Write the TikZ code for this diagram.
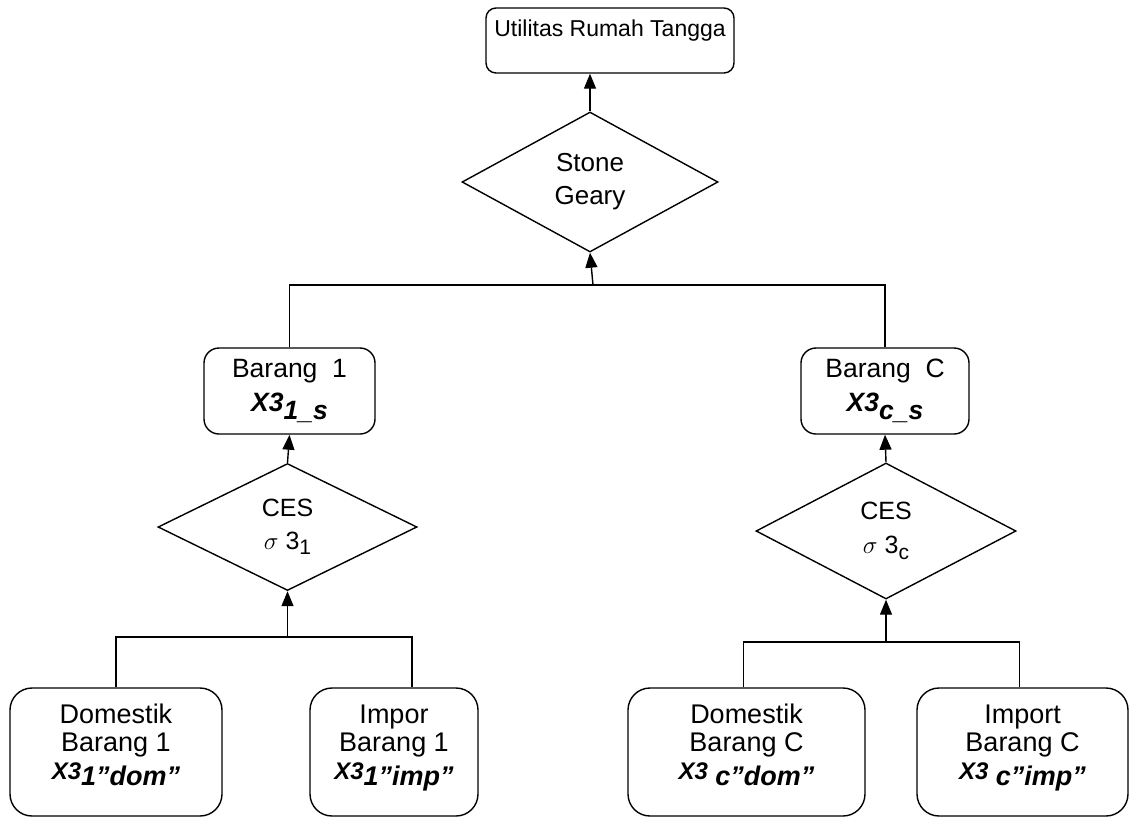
\documentclass[tikz,border=0pt]{standalone}
\usepackage{fontspec}
\setmainfont{Liberation Sans}
\usepackage{tikz}
\usetikzlibrary{shapes.geometric,arrows.meta}

\begin{document}
\begin{tikzpicture}[x=1pt, y=-1pt,
    every node/.style={font=\fontsize{25}{28}\selectfont, align=center, inner sep=0pt},
    box/.style={draw, line width=1.4pt, rounded corners=#1},
    leaf/.style={box=22pt, minimum height=128pt, font=\fontsize{27}{28}\selectfont},
    choice/.style={draw, diamond, line width=1.4pt},
    link/.style={line width=1.4pt},
    arr/.style={line width=1.4pt, -{Triangle[length=15pt, width=12pt]}}]
    \useasboundingbox (0, 0) rectangle (1131, 817);

    \node[box=10pt, minimum width=248pt, minimum height=65pt,
          font=\fontsize{23}{28}\selectfont] (util) at (610, 40.5)
        {Utilitas Rumah Tangga\\[-4pt]\mbox{}};
    \node[choice, minimum width=256pt, minimum height=140pt,
          font=\fontsize{26}{28}\selectfont] (sg) at (590, 182)
        {Stone\\[5pt]Geary};

    \node[box=15pt, minimum width=171pt, minimum height=86pt,
          font=\fontsize{26.5}{28}\selectfont] (brg1) at (289.5, 391)
        {Barang\ \ 1\\[6pt]\textbf{\textit{X3\raisebox{-8pt}{1\_s}}}};
    \node[box=15pt, minimum width=168pt, minimum height=86pt,
          font=\fontsize{26.5}{28}\selectfont] (brgc) at (885, 391)
        {Barang\ \ C\\[6pt]\textbf{\textit{X3\raisebox{-8pt}{c\_s}}}};

    \node[choice, minimum width=259pt, minimum height=127pt] (ces1) at (287.5, 527)
        {CES\\[5pt]$\sigma$ 3\raisebox{-5pt}{\fontsize{21}{21}\selectfont 1}};
    \node[choice, minimum width=260pt, minimum height=136pt] (cesc) at (886, 531)
        {CES\\[6pt]$\sigma$ 3\raisebox{-6pt}{\fontsize{21}{21}\selectfont c}};

    \node[leaf, minimum width=212pt] (dom1) at (116, 752)
        {Domestik\\Barang 1\\\textbf{\textit{{\fontsize{24}{24}\selectfont X3}\raisebox{-6pt}{1”dom”}}}\\[-8pt]\mbox{}};
    \node[leaf, minimum width=168pt] (imp1) at (394, 752)
        {Impor\\Barang 1\\\textbf{\textit{{\fontsize{24}{24}\selectfont X3}\raisebox{-6pt}{1”imp”}}}\\[-8pt]\mbox{}};
    \node[leaf, minimum width=237pt] (domc) at (746.5, 752)
        {Domestik\\Barang C\\\textbf{\textit{{\fontsize{24}{24}\selectfont X3} \raisebox{-6pt}{c”dom”}}}\\[-8pt]\mbox{}};
    \node[leaf, minimum width=211pt] (impc) at (1022.5, 752)
        {Import\\Barang C\\\textbf{\textit{{\fontsize{24}{24}\selectfont X3} \raisebox{-6pt}{c”imp”}}}\\[-8pt]\mbox{}};

    \coordinate (top) at (593, 285);
    \coordinate (bot1) at (287.5, 637);
    \coordinate (botc) at (886, 642);

    \draw[arr] (sg.north) -- (util.south -| sg.north);
    \draw[arr] (top) -- (sg.south);
    \draw[link] (brg1.north) |- (top) -| (brgc.north);

    \draw[arr] (ces1.north) -- (brg1.south);
    \draw[arr] (bot1) -- (ces1.south);
    \draw[link] (dom1.north) |- (bot1) -| ([xshift=18pt]imp1.north);

    \draw[arr] (cesc.north) -- (brgc.south);
    \draw[arr] (botc) -- (cesc.south);
    \draw[link] ([xshift=-3pt]domc.north) |- (botc) -| ([xshift=-3pt]impc.north);
\end{tikzpicture}
\end{document}
